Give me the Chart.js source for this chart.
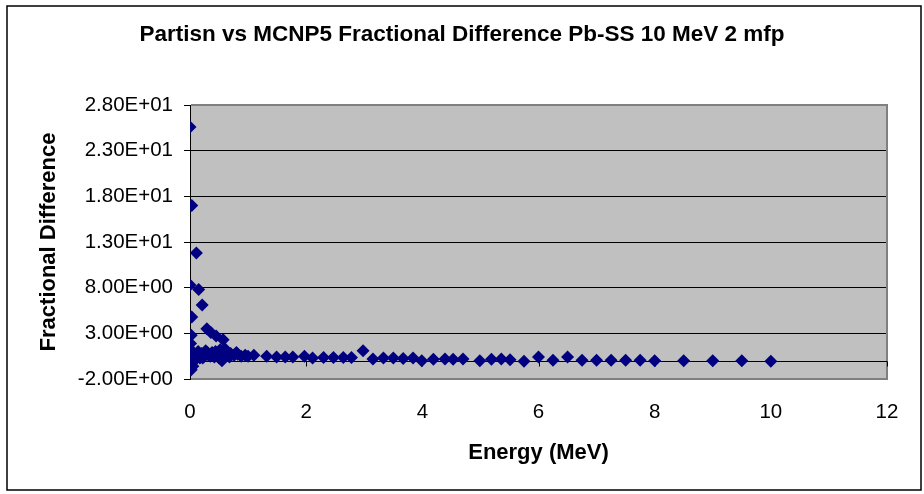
<!DOCTYPE html>
<html><head><meta charset="utf-8">
<script src="https://cdn.jsdelivr.net/npm/chart.js@4.4.0/dist/chart.umd.min.js"></script>
<style>html,body{margin:0;padding:0;background:#fff;}#wrap{width:924px;height:494px;}</style>
</head><body><div id="wrap"><canvas id="c" width="924" height="494"></canvas></div>
<script>
const chartTitle = 'Partisn vs MCNP5 Fractional Difference Pb-SS 10 MeV 2 mfp';
const xTitle = 'Energy (MeV)';
const yTitle = 'Fractional Difference';
const xTickValues = [0, 2, 4, 6, 8, 10, 12];
const xTickLabels = ['0', '2', '4', '6', '8', '10', '12'];
const yTickValues = [-2, 3, 8, 13, 18, 23, 28];
const yTickLabels = ['-2.00E+00', '3.00E+00', '8.00E+00', '1.30E+01', '1.80E+01', '2.30E+01', '2.80E+01'];

const energy = [
  0, 0.03, 0.11, 0, 0.15, 0.21, 0.03, 0.29, 0.36, 0.45, 0.57, 0.02,
  0.01, 0, 0.02, 0, 0.01, 0.02, 0.04, 0.06, 0.08, 0.12, 0.17, 0.2,
  0.24, 0.27, 0.32, 0.38, 0.42, 0.48, 0.52, 0.55, 0.6, 0.64, 0.7, 0.76,
  0.82, 0.88, 0.95, 1.0, 1.1, 1.32, 1.49,
  0.05, 0.1, 0.14, 0.22, 0.3, 0.35, 0.44, 0.5, 0.58, 0.68, 0.8,
  1.64, 1.77, 1.97, 2.11, 2.3, 2.47, 2.64, 2.78, 2.98, 3.15, 3.33, 3.5,
  3.67, 3.84, 3.99, 4.19, 4.39, 4.53, 4.7, 4.99, 5.19, 5.36, 5.51, 5.75,
  6.0, 6.25, 6.5, 6.75, 7.0, 7.25, 7.5, 7.75, 8.0, 8.5, 9.0, 9.5, 10.0
];
const fracDiff = [
  25.6, 17.0, 11.8, 8.3, 7.8, 6.1, 4.8, 3.5, 3.1, 2.7, 2.3, 2.8,
  1.9, 1.2, 0.6, 0.0, -0.5, -1.0, -0.2, 0.9, 0.4, 0.6, 0.3, 0.8,
  0.5, 1.1, 0.6, 0.9, 0.4, 0.7, 1.2, 0.0, 1.3, 0.6, 0.8, 0.6,
  0.7, 0.5, 0.6, 0.5, 0.6, 0.5, 0.4,
  -0.6, 0.2, 1.0, 0.3, 0.9, 0.5, 1.0, 0.3, 0.9, 0.4, 0.9,
  0.4, 0.4, 0.5, 0.3, 0.35, 0.35, 0.35, 0.35, 1.1, 0.2, 0.3, 0.3,
  0.25, 0.3, 0.0, 0.15, 0.2, 0.15, 0.2, 0.0, 0.15, 0.2, 0.1, -0.05,
  0.4, 0.05, 0.4, 0.05, 0.05, 0.05, 0.05, 0.05, 0.0, 0.0, 0.0, 0.0, -0.05
];

const FONT = 'Liberation Sans, Arial, sans-serif';
const points = energy.map((e, i) => ({ x: e, y: fracDiff[i] }));

const plotDeco = {
  id: 'plotDeco',
  beforeDraw(chart) {
    const { ctx, chartArea: a } = chart;
    ctx.save();
    ctx.fillStyle = '#fff';
    ctx.fillRect(0, 0, chart.width, chart.height);
    ctx.strokeStyle = '#000';
    ctx.lineWidth = 1.5;
    ctx.strokeRect(7, 6, 914, 484);
    ctx.fillStyle = '#C0C0C0';
    ctx.fillRect(a.left, a.top, a.right - a.left, a.bottom - a.top);
    ctx.restore();
  },
  beforeDatasetsDraw(chart) {
    const { ctx, chartArea: a, scales } = chart;
    ctx.save();
    ctx.strokeStyle = '#808080';
    ctx.lineWidth = 2;
    ctx.beginPath();
    ctx.moveTo(a.left + 1, a.top);
    ctx.lineTo(a.right, a.top);
    ctx.lineTo(a.right, a.bottom);
    ctx.lineTo(a.left + 1, a.bottom);
    ctx.stroke();
    const y0 = Math.round(scales.y.getPixelForValue(0)) + 0.5;
    ctx.strokeStyle = '#000';
    ctx.lineWidth = 1;
    ctx.beginPath();
    ctx.moveTo(a.left, y0);
    ctx.lineTo(a.right, y0);
    xTickValues.forEach(v => {
      const x = Math.round(scales.x.getPixelForValue(v)) + 0.5;
      ctx.moveTo(x, y0);
      ctx.lineTo(x, y0 + 5);
    });
    ctx.stroke();
    ctx.restore();
  }
};

new Chart(document.getElementById('c'), {
  type: 'scatter',
  data: {
    datasets: [{
      data: points,
      pointStyle: 'rectRot',
      pointRadius: 6.5,
      pointHoverRadius: 6.5,
      backgroundColor: '#000080',
      borderColor: '#000080',
      borderWidth: 0,
      showLine: false
    }]
  },
  options: {
    responsive: false,
    animation: false,
    devicePixelRatio: 1,
    layout: { padding: { left: 0, right: 0, top: 0, bottom: 0 } },
    plugins: {
      legend: { display: false },
      tooltip: { enabled: false },
      title: {
        display: true,
        text: chartTitle,
        color: '#000',
        font: { family: FONT, size: 22.5, weight: 'bold' },
        padding: { top: 21.5, bottom: 56.5 }
      }
    },
    scales: {
      x: {
        type: 'linear',
        min: 0, max: 12,
        afterBuildTicks: s => { s.ticks = xTickValues.map(v => ({ value: v })); },
        afterFit: s => { s.height = 115; },
        ticks: {
          callback: v => xTickLabels[xTickValues.indexOf(v)],
          color: '#000',
          font: { family: FONT, size: 20.5 },
          padding: 21,
          maxRotation: 0,
          autoSkip: false
        },
        grid: { display: false, drawTicks: false },
        border: { display: false },
        title: {
          display: true, text: xTitle, color: '#000',
          font: { family: FONT, size: 22, weight: 'bold' },
          padding: { top: 0, bottom: 28 }
        }
      },
      y: {
        type: 'linear',
        min: -2, max: 28,
        afterBuildTicks: s => { s.ticks = yTickValues.map(v => ({ value: v })); },
        afterFit: s => { s.width = 190; },
        ticks: {
          callback: v => yTickLabels[yTickValues.indexOf(v)],
          color: '#000',
          font: { family: FONT, size: 20.5 },
          padding: 11,
          autoSkip: false
        },
        grid: { color: '#000', lineWidth: 1, tickLength: 6, drawTicks: true },
        border: { display: true, color: '#000', width: 1 },
        title: {
          display: true, text: yTitle, color: '#000',
          font: { family: FONT, size: 22, weight: 'bold' },
          padding: { top: 36, bottom: 0 }
        }
      },
      yRightSpacer: {
        type: 'linear',
        position: 'right',
        display: true,
        afterFit: s => { s.width = 37; },
        ticks: { display: false },
        grid: { display: false, drawTicks: false },
        border: { display: false }
      }
    }
  },
  plugins: [plotDeco]
});
</script>
</body></html>
